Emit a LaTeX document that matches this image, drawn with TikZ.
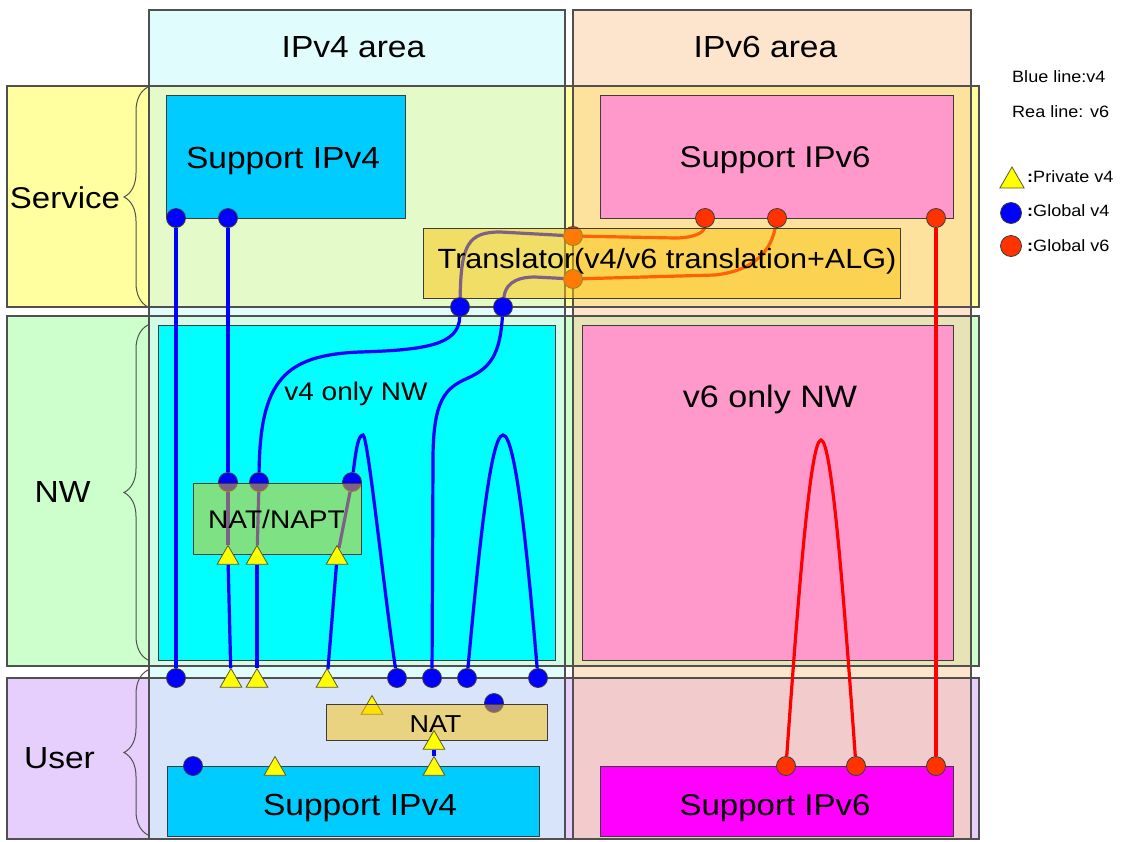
\documentclass[tikz,border=0pt]{standalone}
\usepackage{fontspec}
\setmainfont{Liberation Sans}[FakeStretch=1.1]
\usetikzlibrary{shapes.geometric,decorations.pathreplacing}
\pgfdeclarelayer{bgl}
\pgfdeclarelayer{lnl}
\pgfdeclarelayer{undl}
\pgfdeclarelayer{trl}
\pgfsetlayers{bgl,lnl,undl,trl,main}
\definecolor{colv4}{HTML}{E0FCFC}
\definecolor{colv6}{HTML}{FDE4CC}
\definecolor{rowsv}{HTML}{FFFFA0}
\definecolor{rowsvA}{HTML}{E4FAC8}
\definecolor{rowsvB}{HTML}{FDE29E}
\definecolor{rownw}{HTML}{CCFFCC}
\definecolor{rownwA}{HTML}{D2FCE6}
\definecolor{rownwB}{HTML}{E6E4B4}
\definecolor{rowus}{HTML}{E6CFFC}
\definecolor{rowusA}{HTML}{D8E4FA}
\definecolor{rowusB}{HTML}{F2CCCC}
\definecolor{bordc}{HTML}{505050}
\definecolor{boxc}{HTML}{3C3C3C}
\definecolor{blu}{HTML}{0000FF}
\definecolor{redl}{HTML}{FF0000}
\definecolor{redd}{HTML}{FF3300}
\definecolor{yel}{HTML}{FFFF00}
\definecolor{trib}{HTML}{5A5A30}
\definecolor{goldc}{HTML}{FCC408}
\definecolor{sv4c}{HTML}{00CCFF}
\definecolor{pinkc}{HTML}{FF99CC}
\definecolor{cyanc}{HTML}{00FFFF}
\definecolor{magc}{HTML}{FF00FF}
\newcommand\fsz[1]{\fontsize{#1}{#1}\selectfont}
\begin{document}
\begin{tikzpicture}[x=1pt,y=-1pt,
  bord/.style={draw=bordc, line width=1.2pt},
  box/.style={rectangle, draw=boxc, line width=1pt, inner sep=0pt},
  trbox/.style={box, fill=goldc, fill opacity=0.5},
  bdot/.style={circle, draw=boxc, line width=0.8pt, fill=blu, minimum size=19pt, inner sep=0pt},
  rdot/.style={bdot, fill=redd},
  tri/.style={regular polygon, regular polygon sides=3, minimum size=25pt, inner sep=0pt, fill=yel, draw=trib, line width=0.8pt},
  v4l/.style={draw=blu, line width=3.2pt},
  v6l/.style={draw=redl, line width=3.2pt},
  lbl/.style={inner sep=0pt, anchor=base, text=black},
  brc/.style={draw=bordc, line width=1pt, decorate, decoration={brace, amplitude=24pt}}
]
\useasboundingbox (0,0) rectangle (1131,841);
\begin{pgfonlayer}{bgl}
  % columns
  \fill[colv4] (149,10) rectangle (565,839);
  \fill[colv6] (573,10) rectangle (971,839);
  % rows
  \fill[rowsv] (7,86) rectangle (979,307);
  \fill[rowsvA] (149,86) rectangle (565,307);
  \fill[rowsvB] (573,86) rectangle (971,307);
  \fill[rownw] (7,316) rectangle (979,666);
  \fill[rownwA] (149,316) rectangle (565,666);
  \fill[rownwB] (573,316) rectangle (971,666);
  \fill[rowus] (7,678) rectangle (979,839);
  \fill[rowusA] (149,678) rectangle (565,839);
  \fill[rowusB] (573,678) rectangle (971,839);
  % borders
  \draw[bord] (149,10) rectangle (565,839);
  \draw[bord] (573,10) rectangle (971,839);
  \draw[bord] (7,86) rectangle (979,307);
  \draw[bord] (7,316) rectangle (979,666);
  \draw[bord] (7,678) rectangle (979,839);
  % braces
  \draw[brc] (148,307) -- (148,87);
  \draw[brc] (148,660) -- (148,325);
  \draw[brc] (148,835) -- (148,670);
  % opaque boxes
  \node[box, fill=sv4c, minimum width=239pt, minimum height=123pt] (sv4) at (285.5,156.5) {};
  \node[box, fill=pinkc, minimum width=353pt, minimum height=123pt] (sv6) at (776.5,156.5) {};
  \node[box, fill=cyanc, minimum width=397pt, minimum height=335pt] (nw4) at (356.5,492.5) {};
  \node[box, fill=pinkc, minimum width=371pt, minimum height=335pt] (nw6) at (767.5,492.5) {};
  \node[box, fill=sv4c, minimum width=372pt, minimum height=70pt] (uv4) at (353,801) {};
  \node[box, fill=magc, minimum width=353pt, minimum height=70pt] (uv6) at (776.5,801) {};
\end{pgfonlayer}

% dots under the translucent boxes
\begin{pgfonlayer}{undl}
  \node[bdot] (np1) at (228,482) {};
  \node[bdot] (np2) at (259,482) {};
  \node[bdot] (np3) at (352,482) {};
  \node[rdot] (o1) at (573,236) {};
  \node[rdot] (o2) at (573,279) {};
  \node[bdot] (nd) at (494,703) {};
  \node[tri] (ntu) at (372,708) {};
\end{pgfonlayer}

% translucent boxes
\begin{pgfonlayer}{trl}
  \node[trbox, minimum width=477pt, minimum height=70pt] (tr) at (661.5,263) {};
  \node[trbox, minimum width=168pt, minimum height=71pt] (napt) at (277,518.5) {};
  \node[trbox, minimum width=221pt, minimum height=36pt] (nat) at (436.5,722) {};
\end{pgfonlayer}

% dots on top
\node[bdot] (s1) at (176,218) {};
\node[bdot] (s2) at (228,218) {};
\node[bdot] (tb1) at (460,307) {};
\node[bdot] (tb2) at (503,307) {};
\node[rdot] (sr1) at (705,218) {};
\node[rdot] (sr2) at (777,218) {};
\node[rdot] (sr3) at (936,218) {};
\node[tri] (nt1) at (228,558) {};
\node[tri] (nt2) at (257,558) {};
\node[tri] (nt3) at (337,558) {};
\node[bdot] (r1) at (176,678) {};
\node[tri] (r2) at (231,681) {};
\node[tri] (r3) at (257,681) {};
\node[tri] (r4) at (327,681) {};
\node[bdot] (r5) at (397,678) {};
\node[bdot] (r6) at (432,678) {};
\node[bdot] (r7) at (467,678) {};
\node[bdot] (r8) at (538,678) {};
\node[tri] (ntb) at (434,743) {};
\node[bdot] (u1) at (193,766) {};
\node[tri] (ut1) at (275,769) {};
\node[tri] (ut2) at (434,769) {};
\node[rdot] (ur1) at (786,766) {};
\node[rdot] (ur2) at (856,766) {};
\node[rdot] (ur3) at (936,766) {};

% texts
\node[lbl, font=\fsz{30.5}] (tv4) at (353.5,57) {IPv4 area};
\node[lbl, font=\fsz{30.5}] (tv6) at (765.5,57) {IPv6 area};
\node[lbl, font=\fsz{30}] (tsv) at (65,208) {Service};
\node[lbl, font=\fsz{30.5}] (tnw) at (62.5,502) {NW};
\node[lbl, font=\fsz{30.5}] (tus) at (59.5,768) {User};
\node[lbl, font=\fsz{30.5}] (tsv4) at (283,168) {Support IPv4};
\node[lbl, font=\fsz{30}] (tsv6) at (775,167) {Support IPv6};
\node[lbl, font=\fsz{27.8}] (ttr) at (667,268) {Translator(v4/v6 translation+ALG)};
\node[lbl, font=\fsz{25.5}] (tnw4) at (356,400) {v4 only NW};
\node[lbl, font=\fsz{31}] (tnw6) at (770,407) {v6 only NW};
\node[lbl, font=\fsz{25.5}] (tnapt) at (276.5,528) {NAT/NAPT};
\node[lbl, font=\fsz{24.5}] (tnat) at (435.5,732) {NAT};
\node[lbl, font=\fsz{30.5}] (tuv4) at (360,815) {Support IPv4};
\node[lbl, font=\fsz{30}] (tuv6) at (775,815) {Support IPv6};

% legend
\node[lbl, anchor=base west, font=\fsz{16.4}] (lg1) at (1012,82) {Blue line:v4};
\node[lbl, anchor=base west, font=\fsz{16.4}] (lg2) at (1012,117) {Rea line: v6};
\node[tri, minimum size=28pt] (lgt) at (1012,181) {};
\node[lbl, anchor=base west, font=\fsz{16.4}] (lg3) at (1027,182) {{\bfseries :}Private v4};
\node[bdot, minimum size=21pt] (lgb) at (1011,213) {};
\node[lbl, anchor=base west, font=\fsz{16.4}] (lg4) at (1027,216) {{\bfseries :}Global v4};
\node[rdot, minimum size=21pt] (lgr) at (1011,246) {};
\node[lbl, anchor=base west, font=\fsz{16.4}] (lg5) at (1027,251) {{\bfseries :}Global v6};

% connectors
\begin{pgfonlayer}{lnl}
  \draw[v4l] (s1) -- (r1);
  \draw[v4l] (s2) -- (np1);
  \draw[v4l] (np1) -- (nt1);
  \draw[v4l] (np2) -- (nt2);
  \draw[v4l] (np3) -- (nt3);
  \draw[v4l] (nt1) -- (r2);
  \draw[v4l] (nt2) -- (r3);
  \draw[v4l] (nt3) -- (r4);
  \draw[v4l] (np2) .. controls (260,380) and (285,355) .. (360,352)
                   .. controls (425,350) and (459,345) .. (tb1);
  \draw[v4l] (tb2) .. controls (500,355) and (490,368) .. (468,378)
                   .. controls (445,388) and (433,400) .. (433,460) -- (r6);
  \draw[v4l] (np3) .. controls (356,450) and (358,435) .. (363,435)
                   .. controls (368,435) and (385,600) .. (r5);
  \draw[v4l] (r7) .. controls (478,560) and (490,435) .. (503,435)
                  .. controls (516,435) and (528,560) .. (r8);
  \draw[v4l] (ntb) -- (ut2);
  \draw[v4l] (tb1) .. controls (461,245) and (468,232) .. (500,232) -- (o1);
  \draw[v4l] (tb2) .. controls (505,287) and (512,277) .. (535,277) -- (o2);
  \draw[v6l] (o1) -- (675,238) .. controls (695,238) and (704,232) .. (sr1);
  \draw[v6l] (o2) -- (715,275) .. controls (760,270) and (772,245) .. (sr2);
  \draw[v6l] (sr3) -- (ur3);
  \draw[v6l] (ur1) .. controls (798,600) and (810,440) .. (821,440)
                   .. controls (832,440) and (844,600) .. (ur2);
\end{pgfonlayer}
\end{tikzpicture}
\end{document}
